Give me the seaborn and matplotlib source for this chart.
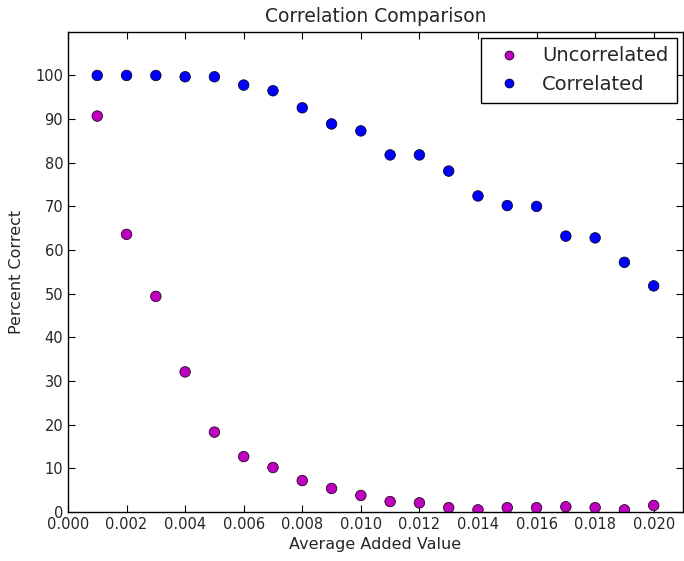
import numpy as np
import pandas as pd
import matplotlib
matplotlib.use("Agg")
import matplotlib.pyplot as plt
import seaborn as sns

# ── Data ──────────────────────────────────────────────────────────────────
added_value = [0.001, 0.002, 0.003, 0.004, 0.005, 0.006, 0.007, 0.008, 0.009, 0.010,
               0.011, 0.012, 0.013, 0.014, 0.015, 0.016, 0.017, 0.018, 0.019, 0.020]
uncorrelated = [90.7, 63.6, 49.4, 32.1, 18.3, 12.7, 10.2, 7.2, 5.4, 3.8,
                2.4, 2.1, 1.0, 0.5, 1.0, 1.0, 1.2, 1.0, 0.5, 1.5]
correlated = [100.0, 100.0, 100.0, 99.7, 99.7, 97.8, 96.5, 92.6, 88.9, 87.3,
              81.8, 81.8, 78.1, 72.4, 70.2, 70.0, 63.2, 62.8, 57.2, 51.8]

df = pd.DataFrame({
    "x": added_value * 2,
    "y": uncorrelated + correlated,
    "series": ["Uncorrelated"] * len(added_value) + ["Correlated"] * len(added_value),
})

sns.set_style("ticks")
plt.rcParams["font.family"] = ["DejaVu Sans"]
plt.rcParams["xtick.direction"] = "in"
plt.rcParams["ytick.direction"] = "in"

fig = plt.figure(figsize=(6.84, 5.61), dpi=100, facecolor="white")
ax = fig.add_axes([0.0994, 0.0873, 0.8991, 0.856])

sns.scatterplot(data=df, x="x", y="y", hue="series",
                palette={"Uncorrelated": "#bf00bf", "Correlated": "#0000ff"},
                s=58, edgecolor="black", linewidth=0.5, ax=ax)

ax.set_xlim(0, 0.021)
ax.set_ylim(0, 110)
ax.set_xticks(np.arange(0, 0.0201, 0.002))
ax.set_yticks(np.arange(0, 101, 10))
ax.set_xticklabels([f"{v:.3f}" for v in np.arange(0, 0.0201, 0.002)])
ax.tick_params(axis="both", which="major", labelsize=10.5, length=5, width=0.8,
               top=True, right=True, color="black")
for sp in ax.spines.values():
    sp.set_color("black")
    sp.set_linewidth(1.0)

ax.set_xlabel("Average Added Value", fontsize=11.5)
ax.set_ylabel("Percent Correct", fontsize=11.5, labelpad=8)
ax.set_title("Correlation Comparison", fontsize=13.5, pad=7)

leg = ax.legend(loc="upper right", fontsize=14, frameon=True, fancybox=False,
                edgecolor="black", framealpha=1, borderaxespad=0.3,
                handletextpad=0.7, markerscale=0.85, borderpad=0.45)
leg.get_frame().set_linewidth(1.0)

plt.savefig("out.png", dpi=100, facecolor="white")
plt.close()
